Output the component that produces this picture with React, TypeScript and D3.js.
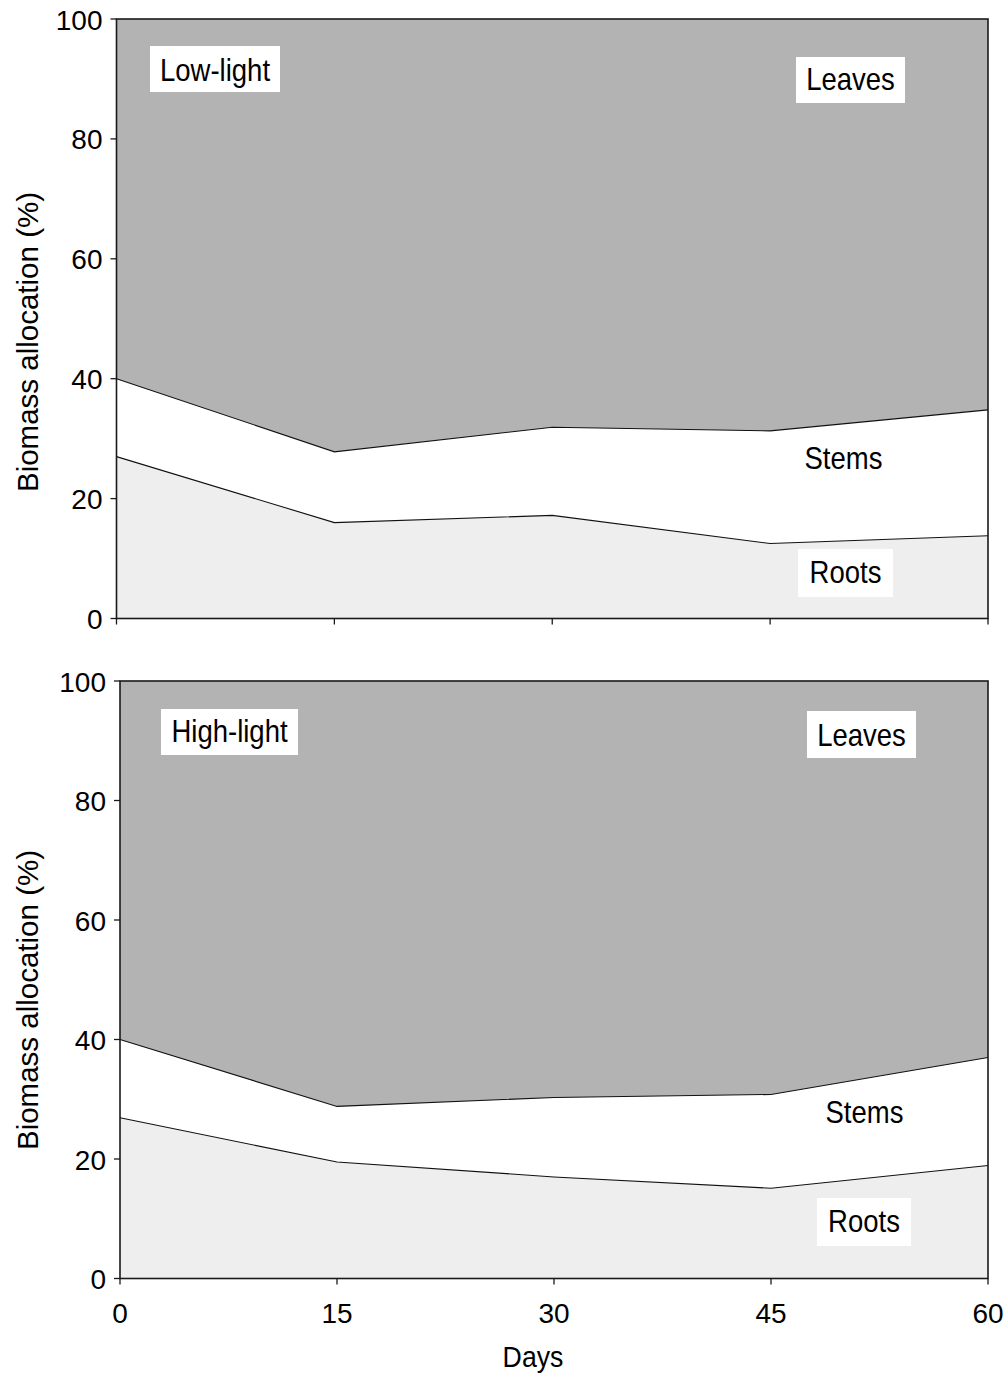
import React from "react";
import * as d3 from "d3";

const days = [0, 15, 30, 45, 60];
const yTicks = [0, 20, 40, 60, 80, 100];
const partKeys = ["roots", "stems", "leaves"];

const lowRoots = [27.0, 16.0, 17.2, 12.5, 13.8];
const lowStems = [13.0, 11.8, 14.7, 18.8, 21.0];
const lowLeaves = [60.0, 72.2, 68.1, 68.7, 65.2];

const highRoots = [26.9, 19.5, 17.0, 15.1, 18.9];
const highStems = [13.1, 9.3, 13.3, 15.7, 18.1];
const highLeaves = [60.0, 71.2, 69.7, 69.2, 63.0];

const FILLS: Record<string, string> = { roots: "#eeeeee", stems: "#ffffff", leaves: "#b3b3b3" };
const FONT = "'Liberation Sans', Arial, Helvetica, sans-serif";
const FS = 28;
const LFS = 32;
const LSX = 0.86;

type Box = { text: string; cx: number; y: number; w: number; h: number; baseline: number; box: boolean };

type PanelProps = {
  roots: number[];
  stems: number[];
  leaves: number[];
  x0: number;
  x1: number;
  yTop: number;
  yBot: number;
  showX: boolean;
  labels: Box[];
  ylabelY: number;
};

function Panel({ roots, stems, leaves, x0, x1, yTop, yBot, showX, labels, ylabelY }: PanelProps) {
  const x = d3.scaleLinear().domain([0, 60]).range([x0, x1]);
  const y = d3.scaleLinear().domain([0, 100]).range([yBot, yTop]);
  const rows = days.map((d, i) => ({ day: d, roots: roots[i], stems: stems[i], leaves: leaves[i] }));
  const series = d3.stack<any>().keys(partKeys)(rows);
  const area = d3
    .area<any>()
    .x((d) => x(d.data.day))
    .y0((d) => y(d[0]))
    .y1((d) => y(Math.min(100, d[1])));
  const line = d3
    .line<any>()
    .x((d) => x(d.data.day))
    .y((d) => y(d[1]));
  const axisColor = "#1a1a1a";
  return (
    <g>
      {series.map((s) => (
        <path key={s.key} d={area(s as any) || ""} fill={FILLS[s.key]} stroke="none" />
      ))}
      {series.slice(0, 2).map((s) => (
        <path key={"l" + s.key} d={line(s as any) || ""} fill="none" stroke="#111" strokeWidth={1.1} />
      ))}
      <rect x={x0} y={yTop} width={x1 - x0} height={yBot - yTop} fill="none" stroke={axisColor} strokeWidth={1.6} />
      {yTicks.map((t) => (
        <g key={"y" + t}>
          <line x1={x0 - 6} x2={x0} y1={y(t)} y2={y(t)} stroke={axisColor} strokeWidth={1.3} />
          <text
            x={x0 - 14}
            y={y(t) + 1}
            textAnchor="end"
            dominantBaseline="central"
            fontFamily={FONT}
            fontSize={FS}
            fill="#000"
          >
            {t}
          </text>
        </g>
      ))}
      {days.map((d) => (
        <g key={"x" + d}>
          <line x1={x(d)} x2={x(d)} y1={yBot} y2={yBot + 6} stroke={axisColor} strokeWidth={1.3} />
          {showX && (
            <text x={x(d)} y={yBot + 44} textAnchor="middle" fontFamily={FONT} fontSize={FS} fill="#000">
              {d}
            </text>
          )}
        </g>
      ))}
      <text
        transform={`translate(38,${ylabelY}) rotate(-90)`}
        textAnchor="middle"
        fontFamily={FONT}
        fontSize={29.5}
        fill="#000"
      >
        Biomass allocation (%)
      </text>
      {labels.map((b) => (
        <g key={b.text}>
          {b.box && <rect x={b.cx - b.w / 2} y={b.y} width={b.w} height={b.h} fill="#ffffff" />}
          <text
            transform={`translate(${b.cx},${b.baseline}) scale(${LSX},1)`}
            textAnchor="middle"
            fontFamily={FONT}
            fontSize={LFS}
            fill="#000"
          >
            {b.text}
          </text>
        </g>
      ))}
    </g>
  );
}

export default function App() {
  const topLabels: Box[] = [
    { text: "Low-light", cx: 215, y: 46, w: 130, h: 46, baseline: 81, box: true },
    { text: "Leaves", cx: 850.5, y: 57, w: 109, h: 46, baseline: 90, box: true },
    { text: "Stems", cx: 843.5, y: 0, w: 0, h: 0, baseline: 469, box: false },
    { text: "Roots", cx: 845.5, y: 549, w: 95, h: 48, baseline: 583, box: true },
  ];
  const botLabels: Box[] = [
    { text: "High-light", cx: 229.5, y: 709, w: 137, h: 46, baseline: 742, box: true },
    { text: "Leaves", cx: 861.5, y: 711, w: 109, h: 47, baseline: 746, box: true },
    { text: "Stems", cx: 864.5, y: 0, w: 0, h: 0, baseline: 1123, box: false },
    { text: "Roots", cx: 864, y: 1198, w: 94, h: 48, baseline: 1232, box: true },
  ];
  return (
    <svg
      width={1008}
      height={1380}
      style={{ position: "absolute", left: 0, top: 0, background: "#fff" }}
    >
      <rect x={0} y={0} width={1008} height={1380} fill="#fff" />
      <Panel
        roots={lowRoots}
        stems={lowStems}
        leaves={lowLeaves}
        x0={116.5}
        x1={988}
        yTop={19}
        yBot={618.5}
        showX={false}
        labels={topLabels}
        ylabelY={342}
      />
      <Panel
        roots={highRoots}
        stems={highStems}
        leaves={highLeaves}
        x0={120}
        x1={988}
        yTop={681}
        yBot={1278.5}
        showX={true}
        labels={botLabels}
        ylabelY={1000}
      />
      <text
        transform="translate(533,1367) scale(0.92,1)"
        textAnchor="middle"
        fontFamily={FONT}
        fontSize={29}
        fill="#000"
      >
        Days
      </text>
    </svg>
  );
}
